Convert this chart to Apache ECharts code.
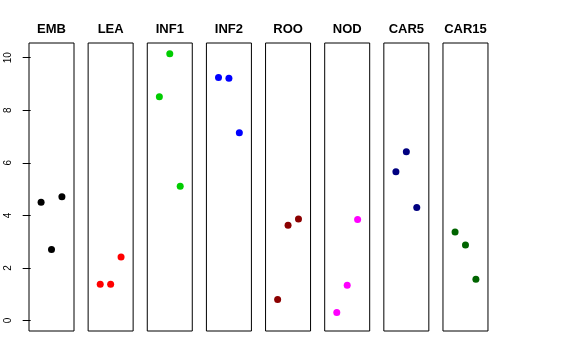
<!DOCTYPE html>
<html>
<head>
<meta charset="utf-8">
<script src="https://cdn.jsdelivr.net/npm/echarts@6/dist/echarts.min.js"></script>
<style>html,body{margin:0;padding:0;background:#fff}#c{width:576px;height:360px}</style>
</head>
<body>
<div id="c"></div>
<script>
const categories = ['EMB', 'LEA', 'INF1', 'INF2', 'ROO', 'NOD', 'CAR5', 'CAR15'];
const positions = [1, 2, 3];
const EMB = [4.50, 2.70, 4.71];
const LEA = [1.38, 1.38, 2.42];
const INF1 = [8.51, 10.15, 5.11];
const INF2 = [9.25, 9.22, 7.14];
const ROO = [0.80, 3.62, 3.86];
const NOD = [0.30, 1.34, 3.84];
const CAR5 = [5.66, 6.42, 4.30];
const CAR15 = [3.37, 2.87, 1.57];
const seriesValues = [EMB, LEA, INF1, INF2, ROO, NOD, CAR5, CAR15];
const colors = ['#000000', '#FF0000', '#00CD00', '#0000FF', '#8B0000', '#FF00FF', '#000080', '#006400'];
const yTicks = [0, 2, 4, 6, 8, 10];

const grids = [], xAxes = [], yAxes = [], series = [];
categories.forEach((name, i) => {
  grids.push({
    left: 29 + 59.14 * i, top: 43, width: 45, height: 288,
    show: true, borderColor: '#000', borderWidth: 1, backgroundColor: 'transparent'
  });
  xAxes.push({
    gridIndex: i, type: 'value', min: -0.16, max: 4.16, position: 'top',
    name: name, nameLocation: 'middle', nameGap: 7,
    nameTextStyle: { fontFamily: 'Liberation Sans, Arial, sans-serif', fontWeight: 'bold', fontSize: 13, color: '#000', verticalAlign: 'bottom' },
    axisLine: { show: false }, axisTick: { show: false }, axisLabel: { show: false }, splitLine: { show: false }
  });
  yAxes.push({
    gridIndex: i, type: 'value', min: -0.4, max: 10.56, interval: 2,
    axisLine: { show: false },
    axisTick: { show: i === 0, length: 8, lineStyle: { color: '#000' },
      customValues: yTicks },
    axisLabel: { show: i === 0, rotate: 90, fontSize: 10, color: '#000', margin: 16,
      fontFamily: 'Liberation Sans, Arial, sans-serif', customValues: yTicks },
    splitLine: { show: false }
  });
  series.push({
    type: 'scatter', xAxisIndex: i, yAxisIndex: i, symbol: 'circle', symbolSize: 7,
    itemStyle: { color: colors[i], opacity: 1 }, silent: true,
    data: positions.map((p, j) => [p, seriesValues[i][j]])
  });
});

const chart = echarts.init(document.getElementById('c'), null, { renderer: 'canvas' });
chart.setOption({
  animation: false,
  backgroundColor: '#fff',
  grid: grids, xAxis: xAxes, yAxis: yAxes, series: series
});
</script>
</body>
</html>
